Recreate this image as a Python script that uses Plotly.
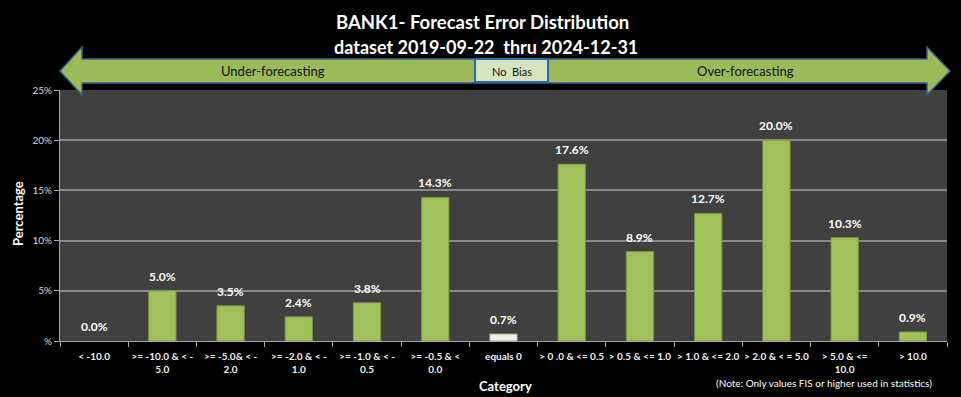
import plotly.graph_objects as go

categories = ["< -10.0", ">= -10.0 & < -<br>5.0", ">= -5.0& < -<br>2.0", ">= -2.0 & < -<br>1.0",
              ">= -1.0 & < -<br>0.5", ">= -0.5 & <<br>0.0", "equals 0", "> 0 .0 & <= 0.5",
              "> 0.5 & <= 1.0", "> 1.0 & <= 2.0", "> 2.0 & < = 5.0", "> 5.0 & <=<br>10.0", "> 10.0"]
values = [0.0, 5.0, 3.5, 2.4, 3.8, 14.3, 0.7, 17.6, 8.9, 12.7, 20.0, 10.3, 0.9]
value_labels = ["0.0%", "5.0%", "3.5%", "2.4%", "3.8%", "14.3%", "0.7%", "17.6%", "8.9%",
                "12.7%", "20.0%", "10.3%", "0.9%"]
y_tickvals = [0, 5, 10, 15, 20, 25]
y_ticktext = ["%", "5%", "10%", "15%", "20%", "25%"]
title_lines = ["BANK1- Forecast Error Distribution", "dataset 2019-09-22  thru 2024-12-31"]

W, H = 961, 397
L, R, T, B = 60, 14, 90, 56
PW = W - L - R
PH = H - T - B


def px(x):
    return (x - L) / PW


def py(y):
    return (H - B - y) / PH


FONT = "Lato, Carlito, Calibri, sans-serif"
GREEN = "#9FC05A"
colors = ["#F0F2E4" if c == "equals 0" else GREEN for c in categories]
lines = ["#9AA57A" if c == "equals 0" else "#7A9A40" for c in categories]
line_w = [0 if v == 0 else 1 for v in values]

fig = go.Figure()
fig.add_trace(go.Bar(
    x=categories, y=values,
    marker=dict(color=colors, line=dict(color=lines, width=line_w)),
    hoverinfo="skip",
))

annotations = []
for c, v, t in zip(categories, values, value_labels):
    annotations.append(dict(x=c, y=v, xref="x", yref="y", text=t, showarrow=False,
                            xanchor="center", yanchor="bottom", yshift=5,
                            font=dict(family=FONT, size=12, color="#FFFFFF", weight="bold")))


def note(x, y, text, size, color="#FFFFFF", angle=0):
    annotations.append(dict(x=px(x), xref="paper", y=py(y), yref="paper", text=text,
                            showarrow=False, xanchor="center", yanchor="middle", textangle=angle,
                            font=dict(family=FONT, size=size, color=color)))


note(482.5, 22, "<b>" + title_lines[0] + "</b>", 18.5)
note(485.5, 47, "<b>" + title_lines[1] + "</b>", 18)
note(273, 71, "Under-forecasting", 13, "#111111")
note(745, 71, "Over-forecasting", 13, "#111111")
note(511.5, 71, "No  Bias", 11, "#111111")
note(18, 214, "<b>Percentage</b>", 13, angle=-90)
note(505, 386, "<b>Category</b>", 13)
note(824, 383, "(Note: Only values FIS or higher used in statistics)", 10)

# double-headed arrow
pts = [(60, 71), (82, 47), (82, 59), (927, 59), (927, 47), (950, 71), (927, 95), (927, 83),
       (82, 83), (82, 95)]
path = "M " + " L ".join(f"{px(a):.5f},{py(b):.5f}" for a, b in pts) + " Z"
shapes = [
    dict(type="path", path=path, xref="paper", yref="paper", fillcolor="#9BBB59",
         line=dict(color="#385D8A", width=1.5), layer="below"),
    dict(type="rect", xref="paper", yref="paper", x0=px(475), x1=px(548), y0=py(82), y1=py(59),
         fillcolor="#D7E4BD", line=dict(color="#1F6FB5", width=2), layer="below"),
]

fig.update_layout(
    width=W, height=H,
    margin=dict(l=L, r=R, t=T, b=B, pad=0),
    paper_bgcolor="#000000", plot_bgcolor="#404040",
    showlegend=False, bargap=0.6,
    annotations=annotations, shapes=shapes,
    font=dict(family=FONT, color="#FFFFFF"),
)
fig.update_xaxes(
    type="category", tickson="boundaries", ticks="outside", ticklen=5, tickcolor="#A6A6A6",
    showline=True, linecolor="#A6A6A6", linewidth=1, showgrid=False, ticklabelstandoff=6,
    tickfont=dict(family=FONT, size=10, color="#F2F2F2", weight="bold"), tickangle=0,
)
fig.update_yaxes(
    range=[0, 25], tickvals=y_tickvals, ticktext=y_ticktext, ticks="outside", ticklen=5,
    tickcolor="#A6A6A6", showline=True, linecolor="#A6A6A6", linewidth=1,
    gridcolor="#8A8A8A", gridwidth=1.5, zeroline=False,
    tickfont=dict(family=FONT, size=10, color="#D9D9D9"),
)

fig.write_html("out.html", config={"displayModeBar": False},
               post_script="document.body.style.margin='0';document.body.style.background='#000';")
